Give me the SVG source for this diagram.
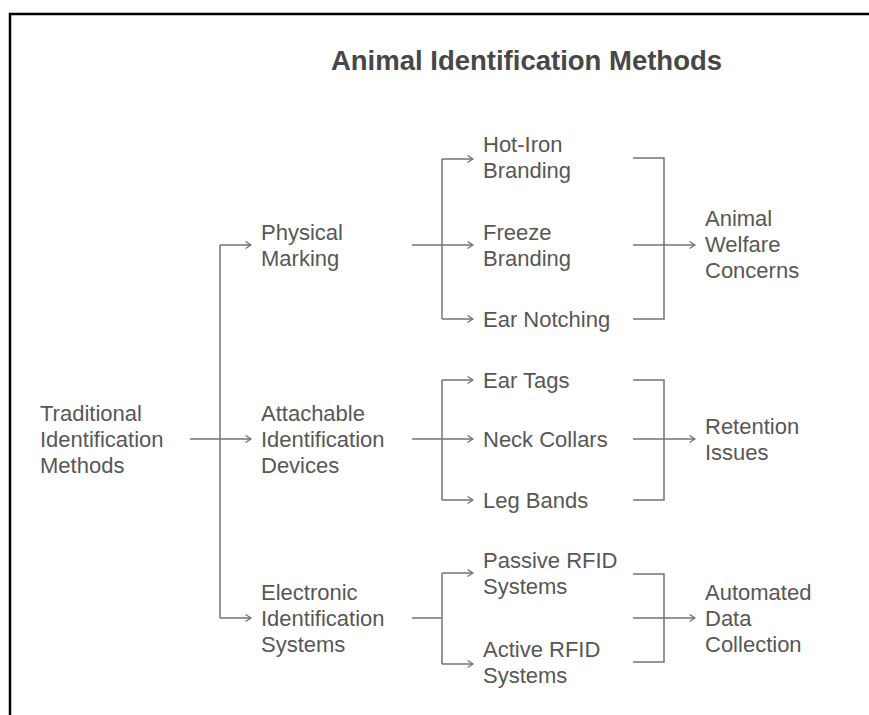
<svg xmlns="http://www.w3.org/2000/svg" width="869" height="715" viewBox="0 0 869 715">
  <defs>
    <marker id="arrow" viewBox="0 0 10 10" refX="9" refY="5" markerWidth="9" markerHeight="9" orient="auto" markerUnits="userSpaceOnUse">
      <path d="M3 1 L9 5 L3 9" fill="none" stroke="#6e6e6e" stroke-width="1.3"/>
    </marker>
    <style>
      .frame { fill: none; stroke: #000; stroke-width: 2.5; }
      .title { font-family: "Liberation Sans", Arial, sans-serif; font-size: 27.5px; font-weight: bold; fill: #474747; }
      .label { font-family: "Liberation Sans", Arial, sans-serif; font-size: 22px; fill: #575757; }
      .wire { fill: none; stroke: #737373; stroke-width: 1.5; }
      .arr { marker-end: url(#arrow); }
    </style>
  </defs>

  <rect width="869" height="715" fill="#fff"/>
  <!-- outer frame, open at right and bottom -->
  <path class="frame" d="M10 715 V14 H869"/>

  <text class="title" x="526.5" y="70" text-anchor="middle">Animal Identification Methods</text>

  <g id="connectors">
    <!-- root to categories -->
    <path class="wire" d="M190 439 H220"/>
    <path class="wire" d="M220 245 V618"/>
    <path class="wire arr" d="M220 245 H251"/>
    <path class="wire arr" d="M220 439 H251"/>
    <path class="wire arr" d="M220 618 H251"/>

    <!-- physical marking -->
    <path class="wire" d="M412 245 H442"/>
    <path class="wire" d="M442 159 V319"/>
    <path class="wire arr" d="M442 159 H473"/>
    <path class="wire arr" d="M442 245 H473"/>
    <path class="wire arr" d="M442 319 H473"/>
    <path class="wire" d="M633 158 H664 V319 H633"/>
    <path class="wire arr" d="M633 245 H695"/>

    <!-- attachable devices -->
    <path class="wire" d="M412 439 H442"/>
    <path class="wire" d="M442 380 V500"/>
    <path class="wire arr" d="M442 380 H473"/>
    <path class="wire arr" d="M442 439 H473"/>
    <path class="wire arr" d="M442 500 H473"/>
    <path class="wire" d="M633 380 H664 V500 H633"/>
    <path class="wire arr" d="M633 439 H695"/>

    <!-- electronic systems -->
    <path class="wire" d="M412 618 H442"/>
    <path class="wire" d="M442 573 V664"/>
    <path class="wire arr" d="M442 573 H473"/>
    <path class="wire arr" d="M442 664 H473"/>
    <path class="wire" d="M633 574 H664 V662 H633"/>
    <path class="wire arr" d="M633 618 H695"/>
  </g>

  <g id="traditional">
    <text class="label" x="40" y="421">Traditional</text>
    <text class="label" x="40" y="447">Identification</text>
    <text class="label" x="40" y="473">Methods</text>
  </g>

  <g id="physical-marking">
    <text class="label" x="261" y="240">Physical</text>
    <text class="label" x="261" y="266">Marking</text>
  </g>
  <g id="attachable-devices">
    <text class="label" x="261" y="421">Attachable</text>
    <text class="label" x="261" y="447">Identification</text>
    <text class="label" x="261" y="473">Devices</text>
  </g>
  <g id="electronic-systems">
    <text class="label" x="261" y="600">Electronic</text>
    <text class="label" x="261" y="626">Identification</text>
    <text class="label" x="261" y="652">Systems</text>
  </g>

  <g id="hot-iron">
    <text class="label" x="483" y="152">Hot-Iron</text>
    <text class="label" x="483" y="178">Branding</text>
  </g>
  <g id="freeze">
    <text class="label" x="483" y="240">Freeze</text>
    <text class="label" x="483" y="266">Branding</text>
  </g>
  <g id="ear-notching">
    <text class="label" x="483" y="327">Ear Notching</text>
  </g>
  <g id="ear-tags">
    <text class="label" x="483" y="388">Ear Tags</text>
  </g>
  <g id="neck-collars">
    <text class="label" x="483" y="447">Neck Collars</text>
  </g>
  <g id="leg-bands">
    <text class="label" x="483" y="508">Leg Bands</text>
  </g>
  <g id="passive-rfid">
    <text class="label" x="483" y="568">Passive RFID</text>
    <text class="label" x="483" y="594">Systems</text>
  </g>
  <g id="active-rfid">
    <text class="label" x="483" y="657">Active RFID</text>
    <text class="label" x="483" y="683">Systems</text>
  </g>

  <g id="welfare">
    <text class="label" x="705" y="226">Animal</text>
    <text class="label" x="705" y="252">Welfare</text>
    <text class="label" x="705" y="278">Concerns</text>
  </g>
  <g id="retention">
    <text class="label" x="705" y="434">Retention</text>
    <text class="label" x="705" y="460">Issues</text>
  </g>
  <g id="automated-data">
    <text class="label" x="705" y="600">Automated</text>
    <text class="label" x="705" y="626">Data</text>
    <text class="label" x="705" y="652">Collection</text>
  </g>
</svg>
